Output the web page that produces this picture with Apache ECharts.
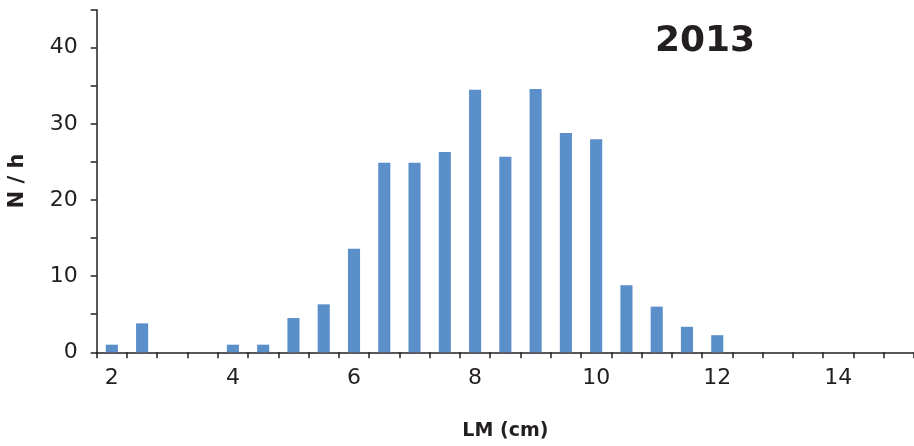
<!DOCTYPE html>
<html><head><meta charset="utf-8">
<script src="https://cdn.jsdelivr.net/npm/echarts@6/dist/echarts.min.js"></script>
<style>html,body{margin:0;padding:0;background:#fff}#c{width:914px;height:446px}</style>
</head><body><div id="c"></div>
<script>
const categories = ['2','2.5','3','3.5','4','4.5','5','5.5','6','6.5','7','7.5','8','8.5','9','9.5','10','10.5','11','11.5','12','12.5','13','13.5','14','14.5','15'];
const values = [1,3.8,0,0,1,1,4.5,6.3,13.6,24.9,24.9,26.3,34.5,25.7,34.6,28.8,28.0,8.8,6.0,3.35,2.25,0,0,0,0,0,0];
const yearLabel = '2013';
const xName = 'LM (cm)';
const yName = 'N / h';

const chart = echarts.init(document.getElementById('c'));
const font = 'DejaVu Sans';
chart.setOption({
  animation: false,
  grid: {left: 96.7, right: 0, top: 9.7, bottom: 93.7, containLabel: false, outerBoundsMode: 'none'},
  title: {text: yearLabel, left: 700, top: 19, textAlign: 'center',
    textStyle: {fontFamily: font, fontWeight: 'bold', fontSize: 36, color: '#231f20'}},
  xAxis: {
    type: 'category', data: categories, boundaryGap: true,
    name: xName, nameLocation: 'middle', nameGap: 69,
    nameTextStyle: {fontFamily: font, fontWeight: 'bold', fontSize: 19, color: '#231f20'},
    axisLine: {lineStyle: {color: '#231f20', width: 1.5}},
    axisTick: {show: true, interval: 0, length: 6, lineStyle: {color: '#231f20', width: 1.5}},
    axisLabel: {interval: 3, margin: 15, fontFamily: font, fontSize: 22, color: '#231f20'},
    splitLine: {show: false}
  },
  yAxis: {
    type: 'value', min: 0, max: 45, interval: 5,
    name: yName, nameLocation: 'middle', nameGap: 69, nameRotate: 90,
    nameTextStyle: {fontFamily: font, fontWeight: 'bold', fontSize: 21, color: '#231f20'},
    axisLine: {show: true, lineStyle: {color: '#231f20', width: 1.5}},
    axisTick: {show: true, length: 6, lineStyle: {color: '#231f20', width: 1.5}},
    axisLabel: {margin: 19, fontFamily: font, fontSize: 22, color: '#231f20',
      formatter: v => (v % 10 === 0 ? String(v) : '')},
    splitLine: {show: false}
  },
  series: [{
    type: 'bar', data: values, barWidth: '40%',
    itemStyle: {color: '#5b8fca'}
  }]
});
</script></body></html>
